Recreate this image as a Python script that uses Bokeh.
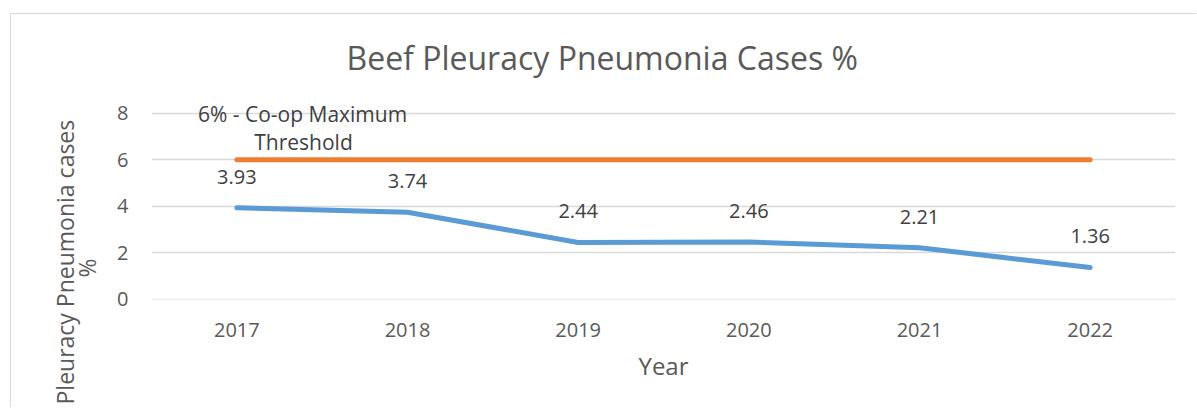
from bokeh.plotting import figure
from bokeh.models import Label, Range1d, FixedTicker, Title
from bokeh.embed import file_html
from bokeh.resources import INLINE
from bokeh.core.properties import value

# ---- data ----
years = [2017, 2018, 2019, 2020, 2021, 2022]
cases = [3.93, 3.74, 2.44, 2.46, 2.21, 1.36]
threshold = [6, 6, 6, 6, 6, 6]
case_labels = ["3.93", "3.74", "2.44", "2.46", "2.21", "1.36"]
y_ticks = [0, 2, 4, 6, 8]
title_text = "Beef Pleuracy Pneumonia Cases %"
y_title = ["Pleuracy Pneumonia cases", "%"]
x_title = "Year"
threshold_label = ["6% - Co-op Maximum", "Threshold"]

FONT = "Open Sans"
AXIS_GREY = "#595959"
LABEL_GREY = "#404040"
BLUE = "#5B9BD5"
ORANGE = "#ED7D31"
GRID = "#D9D9D9"

# reference frame position on page (for placing annotations relative to frame)
FRAME_LEFT = 151.0
FRAME_BOTTOM = 299.0

p = figure(width=1186, height=394, output_backend="svg", toolbar_location=None,
           x_range=Range1d(2016.5, 2022.5), y_range=Range1d(-0.02, 8.6),
           min_border_left=140, min_border_right=22,
           min_border_top=84, min_border_bottom=109)
p.margin = (13, 0, 0, 10)
p.styles = {"border-left": "1px solid #D9D9D9", "border-top": "1px solid #D9D9D9"}
p.outline_line_color = None
p.background_fill_color = "white"
p.border_fill_color = "white"

# title (centred on the whole chart area, i.e. left of the frame centre)
p.title.text = title_text
p.title.align = "left"
p.title.offset = 195
p.title.vertical_align = "middle"
p.title.standoff = 40
p.title.text_font = FONT
p.title.text_font_size = "32px"
p.title.text_font_style = "normal"
p.title.text_color = AXIS_GREY

# grid
p.xgrid.grid_line_color = None
p.ygrid.grid_line_color = GRID
p.ygrid.grid_line_width = 1.3

# axes
p.xaxis.ticker = FixedTicker(ticks=years)
p.yaxis.ticker = FixedTicker(ticks=y_ticks)
for ax in (p.xaxis[0], p.yaxis[0]):
    ax.axis_line_color = None
    ax.major_tick_line_color = None
    ax.minor_tick_line_color = None
    ax.major_tick_out = 0
    ax.major_tick_in = 0
    ax.minor_tick_out = 0
    ax.minor_tick_in = 0
    ax.major_label_text_font = FONT
    ax.major_label_text_font_size = "20px"
    ax.major_label_text_color = AXIS_GREY
p.xaxis.major_label_standoff = 23
p.yaxis.major_label_standoff = 23
p.xaxis.axis_label = x_title
p.xaxis.axis_label_standoff = 9
p.xaxis.axis_label_text_font = FONT
p.xaxis.axis_label_text_font_size = "24px"
p.xaxis.axis_label_text_font_style = "normal"
p.xaxis.axis_label_text_color = AXIS_GREY

# y-axis title, two tightly spaced lines, centred lower than the frame centre
p.add_layout(Title(text=y_title[1], align="left", offset=22, standoff=21,
                   vertical_align="middle",
                   text_font=FONT, text_font_size="23px", text_font_style="normal",
                   text_color=AXIS_GREY), "left")
p.add_layout(Title(text=y_title[0], align="left", offset=-105, standoff=-43,
                   vertical_align="bottom",
                   text_font=FONT, text_font_size="23px", text_font_style="normal",
                   text_color=AXIS_GREY), "left")

# series
p.line(years, threshold, line_color=ORANGE, line_width=5, line_cap="round")
p.line(years, cases, line_color=BLUE, line_width=5, line_cap="round", line_join="round")

p.text(x=years, y=cases, text=case_labels, y_offset=-31,
       text_align="center", text_baseline="middle",
       text_font=value(FONT), text_font_size="20px", text_color=LABEL_GREY)


def add_label(x_page, y_page, text, size, color):
    p.add_layout(Label(x=x_page - FRAME_LEFT, y=FRAME_BOTTOM - y_page,
                       x_units="screen", y_units="screen", text=text,
                       text_align="center", text_baseline="middle",
                       text_font=FONT, text_font_size=size, text_color=color))


# threshold label
add_label(302, 113.5, threshold_label[0], "21px", LABEL_GREY)
add_label(303, 141.5, threshold_label[1], "21px", LABEL_GREY)

open("out.html", "w").write(file_html(p, INLINE))
